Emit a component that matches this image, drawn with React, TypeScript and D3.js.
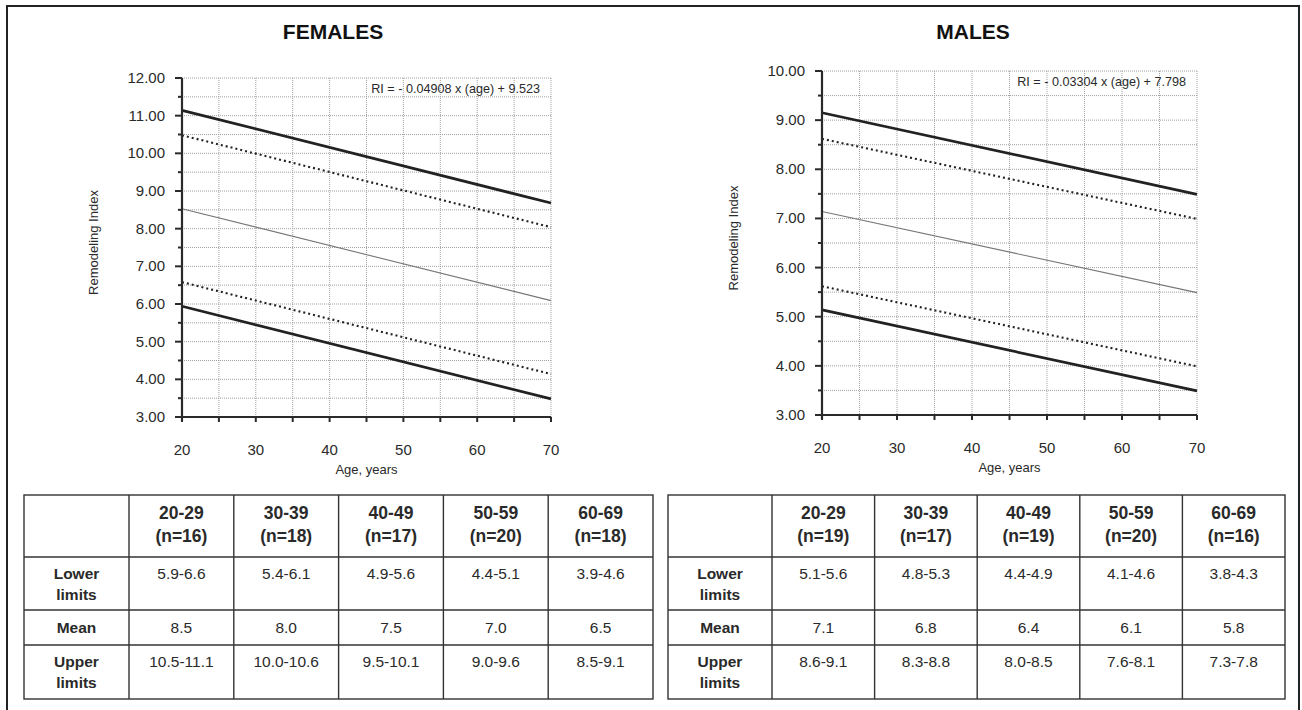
import React from "react";
import * as d3 from "d3";

// ---------- DATA ----------
const lineAges = [20, 70];
const femaleUpperSolid = [11.14, 8.68];
const femaleUpperDotted = [10.48, 8.04];
const femaleMeanLine = [8.53, 6.09];
const femaleLowerDotted = [6.58, 4.14];
const femaleLowerSolid = [5.94, 3.48];
const femaleEquation = "RI = - 0.04908 x (age) + 9.523";

const maleUpperSolid = [9.15, 7.49];
const maleUpperDotted = [8.62, 6.99];
const maleMeanLine = [7.14, 5.49];
const maleLowerDotted = [5.62, 3.99];
const maleLowerSolid = [5.14, 3.49];
const maleEquation = "RI = - 0.03304 x (age) + 7.798";

const xTicks = [20, 30, 40, 50, 60, 70];
const femaleYTicks = [3, 4, 5, 6, 7, 8, 9, 10, 11, 12];
const maleYTicks = [3, 4, 5, 6, 7, 8, 9, 10];

const ageGroups = ["20-29", "30-39", "40-49", "50-59", "60-69"];
const rowLabels = [["Lower", "limits"], ["Mean"], ["Upper", "limits"]];
const femaleN = [16, 18, 17, 20, 18];
const femaleLower = ["5.9-6.6", "5.4-6.1", "4.9-5.6", "4.4-5.1", "3.9-4.6"];
const femaleMean = ["8.5", "8.0", "7.5", "7.0", "6.5"];
const femaleUpper = ["10.5-11.1", "10.0-10.6", "9.5-10.1", "9.0-9.6", "8.5-9.1"];
const maleN = [19, 17, 19, 20, 16];
const maleLower = ["5.1-5.6", "4.8-5.3", "4.4-4.9", "4.1-4.6", "3.8-4.3"];
const maleMean = ["7.1", "6.8", "6.4", "6.1", "5.8"];
const maleUpper = ["8.6-9.1", "8.3-8.8", "8.0-8.5", "7.6-8.1", "7.3-7.8"];

// ---------- LAYOUT ----------
const FONT = "'Liberation Sans', Arial, Helvetica, sans-serif";
const TEXT = "#2a2a2a";

type ChartProps = {
  title: string;
  titleX: number;
  x0: number;
  x1: number;
  yTop: number;
  yBot: number;
  yMax: number;
  yTicks: number[];
  equation: string;
  lines: { vals: number[]; kind: "solid" | "dotted" | "thin" }[];
};

function Chart(p: ChartProps) {
  const x = d3.scaleLinear().domain([20, 70]).range([p.x0, p.x1]);
  const y = d3.scaleLinear().domain([3, p.yMax]).range([p.yBot, p.yTop]);
  const vGrid = d3.range(25, 71, 5);
  const hGrid = d3.range(3.5, p.yMax + 0.01, 0.5);
  const minorY = d3.range(3.5, p.yMax, 1);
  const xMinor = d3.range(20, 71, 5);
  const line = d3
    .line<[number, number]>()
    .x((d) => x(d[0]))
    .y((d) => y(d[1]));
  return (
    <g>
      <text
        x={p.titleX}
        y={39}
        textAnchor="middle"
        fontFamily={FONT}
        fontWeight="bold"
        fontSize={21}
        fill="#111"
      >
        {p.title}
      </text>
      {/* grid */}
      {vGrid.map((v) => (
        <line
          key={"v" + v}
          x1={x(v)}
          x2={x(v)}
          y1={y(p.yMax)}
          y2={y(3)}
          stroke="#a0a0a0"
          strokeWidth={1}
          strokeDasharray="1,1"
        />
      ))}
      {hGrid.map((v) => (
        <line
          key={"h" + v}
          x1={x(20)}
          x2={x(70)}
          y1={y(v)}
          y2={y(v)}
          stroke="#a0a0a0"
          strokeWidth={1}
          strokeDasharray="1,1"
        />
      ))}
      {/* equation */}
      <text
        x={p.x1 - 11}
        y={p.yTop + 15}
        textAnchor="end"
        fontFamily={FONT}
        fontSize={12.6}
        fill={TEXT}
      >
        {p.equation}
      </text>
      {/* lines */}
      {p.lines.map((l, i) => (
        <path
          key={i}
          d={line(lineAges.map((a, j) => [a, l.vals[j]] as [number, number])) || ""}
          fill="none"
          stroke={l.kind === "thin" ? "#777" : "#222"}
          strokeWidth={l.kind === "solid" ? 2.7 : l.kind === "dotted" ? 2.1 : 1.1}
          strokeDasharray={l.kind === "dotted" ? "2,3" : undefined}
        />
      ))}
      {/* axes */}
      <line x1={x(20)} x2={x(20)} y1={y(p.yMax)} y2={y(3) + 4} stroke="#2a2a2a" strokeWidth={2.2} />
      <line x1={x(20) - 7} x2={x(70)} y1={y(3)} y2={y(3)} stroke="#2a2a2a" strokeWidth={2.2} />
      {p.yTicks.map((t) => (
        <g key={"yt" + t}>
          <line x1={x(20) - 7} x2={x(20)} y1={y(t)} y2={y(t)} stroke="#2a2a2a" strokeWidth={2} />
          <text
            x={x(20) - 17}
            y={y(t) + 5}
            textAnchor="end"
            fontFamily={FONT}
            fontSize={15}
            fill={TEXT}
          >
            {t.toFixed(2)}
          </text>
        </g>
      ))}
      {minorY.map((t) => (
        <line key={"ym" + t} x1={x(20) - 4} x2={x(20)} y1={y(t)} y2={y(t)} stroke="#2a2a2a" strokeWidth={2} />
      ))}
      {xMinor.map((t) => (
        <line key={"xm" + t} x1={x(t)} x2={x(t)} y1={y(3)} y2={y(3) + 5} stroke="#2a2a2a" strokeWidth={2} />
      ))}
      {xTicks.map((t) => (
        <text
          key={"xt" + t}
          x={x(t)}
          y={y(3) + 38}
          textAnchor="middle"
          fontFamily={FONT}
          fontSize={15}
          fill={TEXT}
        >
          {t}
        </text>
      ))}
      <text
        x={(p.x0 + p.x1) / 2}
        y={y(3) + 57}
        textAnchor="middle"
        fontFamily={FONT}
        fontSize={13}
        fill={TEXT}
      >
        Age, years
      </text>
      <text
        transform={`translate(${p.x0 - 84},${(p.yTop + p.yBot) / 2 - 5}) rotate(-90)`}
        textAnchor="middle"
        fontFamily={FONT}
        fontSize={13}
        fill={TEXT}
      >
        Remodeling Index
      </text>
    </g>
  );
}

type TableProps = {
  left: number;
  right: number;
  firstCol: number;
  n: number[];
  lower: string[];
  mean: string[];
  upper: string[];
};

const rowEdges = [495, 557, 610, 645, 699];

function Table(p: TableProps) {
  const col = d3
    .scaleBand<string>()
    .domain(ageGroups)
    .range([p.left + p.firstCol, p.right]);
  const labelCx = p.left + p.firstCol / 2;
  const rowsData = [p.lower, p.mean, p.upper];
  const stroke = "#333";
  return (
    <g fontFamily={FONT} fill={TEXT}>
      <rect
        x={p.left}
        y={rowEdges[0]}
        width={p.right - p.left}
        height={rowEdges[4] - rowEdges[0]}
        fill="none"
        stroke={stroke}
        strokeWidth={1.4}
      />
      {rowEdges.slice(1, 4).map((r) => (
        <line key={"r" + r} x1={p.left} x2={p.right} y1={r} y2={r} stroke={stroke} strokeWidth={1.4} />
      ))}
      {ageGroups.map((g) => (
        <line
          key={"c" + g}
          x1={col(g)!}
          x2={col(g)!}
          y1={rowEdges[0]}
          y2={rowEdges[4]}
          stroke={stroke}
          strokeWidth={1.4}
        />
      ))}
      {ageGroups.map((g, i) => (
        <g key={"hd" + g}>
          <text x={col(g)! + col.bandwidth() / 2} y={519} textAnchor="middle" fontWeight="bold" fontSize={17.5}>
            {g}
          </text>
          <text x={col(g)! + col.bandwidth() / 2} y={542} textAnchor="middle" fontWeight="bold" fontSize={17.5}>
            {`(n=${p.n[i]})`}
          </text>
        </g>
      ))}
      {rowLabels.map((lbl, ri) => {
        const top = rowEdges[ri + 1];
        const base = ri === 1 ? 633 : top + 22;
        return (
          <g key={"rl" + ri}>
            {lbl.map((s, k) => (
              <text key={k} x={labelCx} y={base + k * 21} textAnchor="middle" fontWeight="bold" fontSize={15.5}>
                {s}
              </text>
            ))}
            {rowsData[ri].map((v, ci) => (
              <text
                key={"v" + ci}
                x={col(ageGroups[ci])! + col.bandwidth() / 2}
                y={base}
                textAnchor="middle"
                fontSize={15.5}
              >
                {v}
              </text>
            ))}
          </g>
        );
      })}
    </g>
  );
}

export default function App() {
  return (
    <svg
      width={1302}
      height={710}
      style={{ position: "absolute", left: 0, top: 0, background: "#fff" }}
    >
      <rect x={0} y={0} width={1302} height={710} fill="#fff" />
      <rect x={7} y={6} width={1292} height={720} fill="none" stroke="#222" strokeWidth={2} />
      <Chart
        title="FEMALES"
        titleX={333}
        x0={182}
        x1={551}
        yTop={78}
        yBot={417}
        yMax={12}
        yTicks={femaleYTicks}
        equation={femaleEquation}
        lines={[
          { vals: femaleUpperSolid, kind: "solid" },
          { vals: femaleUpperDotted, kind: "dotted" },
          { vals: femaleMeanLine, kind: "thin" },
          { vals: femaleLowerDotted, kind: "dotted" },
          { vals: femaleLowerSolid, kind: "solid" },
        ]}
      />
      <Chart
        title="MALES"
        titleX={973}
        x0={822}
        x1={1197}
        yTop={71}
        yBot={415}
        yMax={10}
        yTicks={maleYTicks}
        equation={maleEquation}
        lines={[
          { vals: maleUpperSolid, kind: "solid" },
          { vals: maleUpperDotted, kind: "dotted" },
          { vals: maleMeanLine, kind: "thin" },
          { vals: maleLowerDotted, kind: "dotted" },
          { vals: maleLowerSolid, kind: "solid" },
        ]}
      />
      <Table
        left={24}
        right={653}
        firstCol={105}
        n={femaleN}
        lower={femaleLower}
        mean={femaleMean}
        upper={femaleUpper}
      />
      <Table
        left={668}
        right={1285}
        firstCol={104}
        n={maleN}
        lower={maleLower}
        mean={maleMean}
        upper={maleUpper}
      />
    </svg>
  );
}
